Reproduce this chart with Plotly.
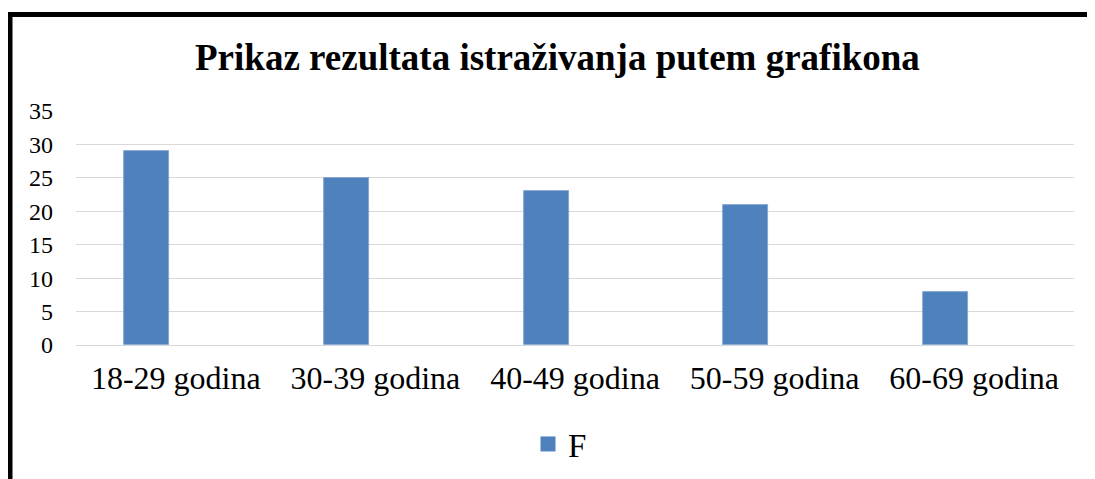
import plotly.graph_objects as go

categories = ["18-29 godina", "30-39 godina", "40-49 godina", "50-59 godina", "60-69 godina"]
values_f = [29, 25, 23, 21, 8]
series_name = "F"
title_text = "Prikaz rezultata istraživanja putem grafikona"
y_ticks = [0, 5, 10, 15, 20, 25, 30, 35]

W, H = 1095, 479
OFF = 8  # page body margin offset
L, R, T, B = 76 - OFF, 1074 - OFF, 111 - OFF, 345 - OFF  # plot area in figure pixels
pw, ph = R - L, B - T

def px_x(x):
    return (x - OFF - L) / pw

def px_y(y):
    return (B - (y - OFF)) / ph

BLUE = "#4F81BD"
FONT = "Liberation Serif"

fig = go.Figure()
fig.add_trace(go.Bar(
    x=categories, y=values_f, name=series_name,
    width=0.2255, offset=-0.258,
    marker=dict(color=BLUE, line=dict(color="#7FA3D3", width=0.8)),
    showlegend=False,
))
# legend entry
fig.add_trace(go.Scatter(
    x=[categories[0]], y=[None], name=series_name, mode="markers",
    marker=dict(symbol="square", size=15, color=BLUE),
    showlegend=True, hoverinfo="skip",
))

fig.update_layout(
    width=W, height=H,
    margin=dict(l=L, r=W - R, t=T, b=H - B, pad=0),
    paper_bgcolor="white", plot_bgcolor="white",
    font=dict(family=FONT, color="black"),
    showlegend=True,
    legend=dict(orientation="h", x=px_x(560), xanchor="center",
                y=px_y(444), yanchor="middle",
                font=dict(family=FONT, size=33, color="black"),
                bgcolor="rgba(0,0,0,0)", itemsizing="trace"),
    xaxis=dict(type="category", showgrid=False, showline=False, zeroline=False,
               ticks="", tickfont=dict(family=FONT, size=32, color="black"),
               range=[-0.5, 4.5], fixedrange=True, ticklabelstandoff=11),
    yaxis=dict(range=[0, 35], tickvals=y_ticks, showgrid=True,
               gridcolor="#D9D9D9", gridwidth=1.3, zeroline=True,
               zerolinecolor="#D9D9D9", zerolinewidth=1.3, showline=False,
               ticks="", tickfont=dict(family=FONT, size=24, color="black"),
               ticklabelstandoff=22, fixedrange=True),
    bargap=0,
)

fig.add_annotation(
    text="<b>" + title_text + "</b>", xref="paper", yref="paper",
    x=px_x(557), y=px_y(58), xanchor="center", yanchor="middle",
    showarrow=False, font=dict(family=FONT, size=37, color="black"),
)

# outer chart border (left and top visible)
xl, yt = px_x(10), px_y(14.5)
xr, yb = px_x(1120), px_y(520)
fig.add_shape(
    type="path", xref="paper", yref="paper",
    path=f"M {xl} {yb} L {xl} {yt} L {xr} {yt}",
    line=dict(color="black", width=5),
)

fig.write_html("out.html")
